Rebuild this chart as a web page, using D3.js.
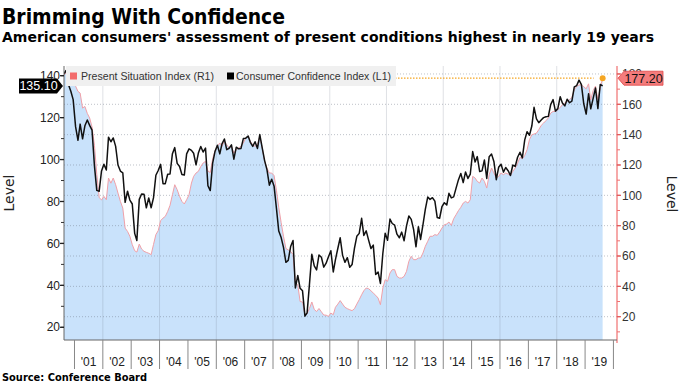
<!DOCTYPE html>
<html><head><meta charset="utf-8">
<script src="https://cdn.jsdelivr.net/npm/d3@7"></script>
<style>body{margin:0;background:#fff;} svg{display:block;}</style>
</head><body><svg id="c" width="680" height="383"></svg>
<script>
// Monthly data, Aug 2000 .. Aug 2019
const startYear = 2000, startMonthIndex = 7;
const cci = [
  140.8,142.5,135.8,132.6,128.6,
  115.7,109.2,116.9,109.9,116.1,118.9,116.3,114.0,97.0,85.3,84.9,94.6,
  97.8,95.0,110.7,108.5,110.3,106.3,97.4,94.5,93.7,79.6,84.9,80.7,
  78.8,64.8,61.4,81.0,83.6,83.5,77.0,81.7,77.0,81.7,92.5,94.8,
  97.7,88.5,88.5,93.0,93.1,102.8,105.7,98.2,96.7,92.9,92.6,102.7,
  105.1,104.4,103.0,97.5,103.1,106.2,103.6,105.5,87.5,85.2,98.3,103.8,
  106.8,102.7,107.5,109.8,104.7,105.4,107.0,100.2,105.9,105.1,105.3,110.0,
  110.2,111.2,108.2,106.3,108.5,105.3,111.9,105.6,99.5,95.2,87.8,90.6,
  87.3,76.4,65.9,62.8,58.1,51.0,51.9,58.5,61.4,38.8,44.7,38.6,
  37.4,25.3,26.9,40.8,54.8,49.3,47.4,54.5,53.4,48.7,50.6,53.6,
  56.5,46.4,52.3,57.7,62.7,54.3,51.0,53.2,48.6,49.9,57.8,63.4,
  64.8,72.0,63.8,66.0,61.7,57.6,59.2,45.2,46.4,40.9,55.2,64.8,
  61.5,71.6,69.5,68.7,64.4,62.7,65.4,61.3,68.4,73.1,71.5,66.7,
  58.4,68.0,61.9,69.0,76.2,82.1,81.0,81.8,80.2,72.4,72.0,77.5,
  79.4,78.3,83.9,81.7,82.2,86.4,90.3,93.4,89.0,94.1,91.0,93.1,
  103.8,98.8,101.4,94.3,94.6,99.8,91.0,101.3,102.6,99.1,90.4,96.3,
  97.8,94.0,96.2,94.7,92.4,97.4,96.7,101.1,103.5,100.8,109.4,113.3,
  111.6,116.1,124.9,119.4,117.6,118.9,120.0,120.4,120.6,126.2,128.6,123.1,
  124.3,130.0,127.0,125.6,128.8,127.1,127.9,134.7,135.3,137.9,135.7,126.6,
  121.7,131.4,124.2,129.2,134.1,124.3,135.8,135.1
];
const psi = [
  179.5,180.5,180.0,181.0,176.0,
  172.0,168.5,167.4,157.5,158.6,154.0,151.0,145.0,133.0,114.0,98.5,97.0,
  99.3,97.1,111.4,108.0,111.4,107.0,101.5,96.0,91.6,78.4,76.2,73.0,
  67.5,63.5,62.6,67.9,64.6,63.1,62.4,61.8,60.9,67.5,74.1,76.7,
  83.3,85.0,86.1,89.4,93.4,100.4,107.0,103.7,99.3,96.0,94.3,97.1,
  100.4,108.1,112.5,114.7,115.8,119.0,121.3,122.4,116.0,115.0,124.1,129.4,
  132.3,134.5,132.3,135.6,133.4,131.2,132.3,127.9,130.0,131.2,132.3,134.5,
  137.8,138.9,135.6,133.4,132.3,133.4,138.9,131.2,122.4,118.0,114.7,114.7,
  113.0,103.0,92.0,82.0,73.0,65.0,64.0,63.0,61.0,42.0,41.0,30.0,
  29.7,21.2,21.9,25.5,29.7,24.8,23.4,25.4,23.2,21.1,21.0,20.2,
  22.4,21.3,26.2,28.3,30.6,28.3,26.2,25.3,24.6,24.0,25.3,28.3,
  31.2,34.5,37.1,38.9,38.5,37.1,35.6,34.1,32.3,27.9,38.9,44.4,
  43.3,48.8,51.0,51.0,46.6,45.5,45.5,46.6,49.9,56.5,59.8,57.6,
  57.6,58.7,58.7,62.0,66.4,69.7,73.0,73.0,74.1,73.6,75.8,78.4,
  80.6,81.1,82.4,80.2,84.6,87.2,89.9,92.1,94.9,96.0,94.9,97.1,
  112.5,111.4,109.2,108.1,111.4,109.2,104.8,113.6,118.0,114.7,111.4,112.5,
  114.7,113.6,114.7,114.0,113.2,115.8,118.0,121.3,125.0,124.1,126.3,130.1,
  136.7,140.0,140.4,141.0,143.3,146.1,147.6,149.2,151.0,154.2,155.3,155.3,
  156.4,158.0,159.7,160.8,161.9,163.0,164.6,169.6,171.8,172.8,172.7,171.6,
  170.2,173.5,163.0,169.0,172.0,163.0,170.9,177.2
];
const yearLabels = ["'01","'02","'03","'04","'05","'06","'07","'08","'09","'10","'11","'12","'13","'14","'15","'16","'17","'18","'19"];
const yearStarts = [2001,2002,2003,2004,2005,2006,2007,2008,2009,2010,2011,2012,2013,2014,2015,2016,2017,2018,2019,2020];
const gridYears = [2002,2004,2006,2008,2010,2012,2014,2016,2018];
const leftTicks = [20,40,60,80,100,120,140];
const rightTicks = [20,40,60,80,100,120,140,160,180];
const lastCCI = 135.1, lastPSI = 177.2;

const svg = d3.select("#c");
const L = 64, R = 617, T = 66, B = 340;
const dates = cci.map((_, i) => new Date(startYear, startMonthIndex + i, 15));
const x = d3.scaleTime().domain([new Date(2000,7,19), new Date(2020,1,16)]).range([L, R]);
const yL = d3.scaleLinear().domain([13.94, 143.67]).range([B, 68]);
const yR = d3.scaleLinear().domain([4.64, 183.93]).range([B, 68]);

svg.append("defs").append("clipPath").attr("id","clip")
  .append("rect").attr("x", L).attr("y", T).attr("width", R - L).attr("height", B - T);

const plot = svg.append("g").attr("clip-path","url(#clip)");

// area fill (PSI)
plot.append("path").datum(psi)
  .attr("d", d3.area().x((d,i)=>x(dates[i])).y0(B).y1(d=>yR(d)))
  .attr("fill", "#c9e2fb");

// gridlines
plot.selectAll(".hg").data(rightTicks).enter().append("line")
  .attr("x1", L).attr("x2", R).attr("y1", d=>yR(d)).attr("y2", d=>yR(d))
  .attr("stroke", "rgba(110,120,135,0.45)").attr("stroke-width", 1)
  .attr("stroke-dasharray", "1,2");
plot.selectAll(".vg").data(gridYears).enter().append("line")
  .attr("x1", d=>x(new Date(d,0,1))).attr("x2", d=>x(new Date(d,0,1)))
  .attr("y1", T).attr("y2", B)
  .attr("stroke", "rgba(110,120,135,0.22)").attr("stroke-width", 1);

// PSI line
plot.append("path").datum(psi)
  .attr("d", d3.line().x((d,i)=>x(dates[i])).y(d=>yR(d)))
  .attr("fill","none").attr("stroke","#f0a0a8").attr("stroke-width",1);
// CCI line
plot.append("path").datum(cci)
  .attr("d", d3.line().x((d,i)=>x(dates[i])).y(d=>yL(d)))
  .attr("fill","none").attr("stroke","#111").attr("stroke-width",1.5).attr("stroke-linejoin","round");

// orange reference line
const yO = yR(lastPSI);
const xLast = x(dates[dates.length-1]);
svg.append("line").attr("x1", 86).attr("x2", xLast - 9).attr("y1", yO).attr("y2", yO)
  .attr("stroke","#f5a623").attr("stroke-width",1.3).attr("stroke-dasharray","1.5,1.5");
svg.append("path").attr("d", `M89,${yO-4} L84,${yO} L89,${yO+4}`)
  .attr("fill","none").attr("stroke","#f5a623").attr("stroke-width",1.2);
svg.append("circle").attr("cx", xLast).attr("cy", yO).attr("r", 3).attr("fill","#f5a623");

// legend
const lg = svg.append("g");
lg.append("rect").attr("x",66).attr("y",66).attr("width",330).attr("height",20).attr("fill","#f0f0f0");
lg.append("rect").attr("x",70).attr("y",72.5).attr("width",7).attr("height",7).attr("fill","#f36b6b");
lg.append("text").attr("x",81).attr("y",80).attr("font-family","Liberation Sans, Arial, sans-serif")
  .attr("font-size",11).attr("fill","#333").attr("textLength",133).attr("lengthAdjust","spacingAndGlyphs")
  .text("Present Situation Index (R1)");
lg.append("rect").attr("x",227).attr("y",72.5).attr("width",7).attr("height",7).attr("fill","#000");
lg.append("text").attr("x",236).attr("y",80).attr("font-family","Liberation Sans, Arial, sans-serif")
  .attr("font-size",11).attr("fill","#333").attr("textLength",155).attr("lengthAdjust","spacingAndGlyphs")
  .text("Consumer Confidence Index (L1)");

// left axis
const fontAx = "Liberation Sans, Arial, sans-serif";
svg.append("line").attr("x1",L).attr("x2",L).attr("y1",T).attr("y2",B).attr("stroke","#666");
const leftMinor = d3.range(20, 141, 10);
svg.selectAll(".lmt").data(leftMinor).enter().append("line")
  .attr("x1",L-3).attr("x2",L).attr("y1",d=>yL(d)).attr("y2",d=>yL(d)).attr("stroke","#333");
svg.selectAll(".lt").data(leftTicks).enter().append("line")
  .attr("x1",L-4).attr("x2",L).attr("y1",d=>yL(d)).attr("y2",d=>yL(d)).attr("stroke","#222").attr("stroke-width",1.3);
svg.selectAll(".ll").data(leftTicks).enter().append("text")
  .attr("x",L-4).attr("y",d=>yL(d)+4.2).attr("text-anchor","end")
  .attr("font-family",fontAx).attr("font-size",12).attr("fill","#222").text(d=>d);

// right axis
svg.append("line").attr("x1",R).attr("x2",R).attr("y1",T).attr("y2",B+3).attr("stroke","#f07070").attr("stroke-width",1.2);
const rightMinor = d3.range(10, 181, 10);
svg.selectAll(".rmt").data(rightMinor).enter().append("line")
  .attr("x1",R).attr("x2",R+3).attr("y1",d=>yR(d)).attr("y2",d=>yR(d)).attr("stroke","#f07070");
svg.selectAll(".rt").data(rightTicks).enter().append("line")
  .attr("x1",R).attr("x2",R+4).attr("y1",d=>yR(d)).attr("y2",d=>yR(d)).attr("stroke","#e05858").attr("stroke-width",1.2);
svg.selectAll(".rl").data(rightTicks).enter().append("text")
  .attr("x",R+5).attr("y",d=>yR(d)+4.2).attr("text-anchor","start")
  .attr("font-family",fontAx).attr("font-size",12).attr("fill","#333").text(d=>d);

// bottom axis
svg.append("line").attr("x1",L).attr("x2",R).attr("y1",B).attr("y2",B).attr("stroke","#666");
svg.selectAll(".yt").data(yearStarts).enter().append("line")
  .attr("x1",d=>x(new Date(d,0,1))).attr("x2",d=>x(new Date(d,0,1)))
  .attr("y1",B).attr("y2",B+29).attr("stroke","#888");
svg.selectAll(".yl").data(yearLabels).enter().append("text")
  .attr("x",(d,i)=>(x(new Date(yearStarts[i],0,1))+x(new Date(yearStarts[i]+1,0,1)))/2)
  .attr("y",366).attr("text-anchor","middle")
  .attr("font-family",fontAx).attr("font-size",12).attr("fill","#222").text(d=>d);

// last value labels
const yc = yL(lastCCI);
svg.append("path").attr("d",`M19,${yc-7.5} L57,${yc-7.5} L63,${yc} L57,${yc+7.5} L19,${yc+7.5} Z`).attr("fill","#000");
svg.append("text").attr("x",38.5).attr("y",yc+4.3).attr("text-anchor","middle")
  .attr("font-family",fontAx).attr("font-size",12.5).attr("fill","#fff").text(lastCCI.toFixed(2));
svg.append("path").attr("d",`M618,${yO} L624,${yO-7} L663,${yO-7} L663,${yO+7} L624,${yO+7} Z`)
  .attr("fill","#f47c7c").attr("stroke","#d44").attr("stroke-width",0.8);
svg.append("text").attr("x",643.5).attr("y",yO+4.3).attr("text-anchor","middle")
  .attr("font-family",fontAx).attr("font-size",12.5).attr("fill","#111").text(lastPSI.toFixed(2));

// axis titles
svg.append("text").attr("transform","translate(14,193) rotate(-90)").attr("text-anchor","middle")
  .attr("font-family","DejaVu Sans, sans-serif").attr("font-size",14).attr("fill","#222").text("Level");
svg.append("text").attr("transform","translate(667,194) rotate(90)").attr("text-anchor","middle")
  .attr("font-family","DejaVu Sans, sans-serif").attr("font-size",14).attr("fill","#222").text("Level");

// titles
svg.append("text").attr("x",2).attr("y",24).attr("font-family","DejaVu Sans, sans-serif").attr("font-weight","bold")
  .attr("font-size",21).attr("fill","#000").attr("textLength",283).attr("lengthAdjust","spacingAndGlyphs")
  .text("Brimming With Confidence");
svg.append("text").attr("x",2).attr("y",42).attr("font-family","DejaVu Sans, sans-serif").attr("font-weight","bold")
  .attr("font-size",14).attr("fill","#000").attr("textLength",652).attr("lengthAdjust","spacingAndGlyphs")
  .text("American consumers' assessment of present conditions highest in nearly 19 years");
svg.append("text").attr("x",2).attr("y",381).attr("font-family","DejaVu Sans, sans-serif").attr("font-weight","bold")
  .attr("font-size",11).attr("fill","#000").attr("textLength",145).attr("lengthAdjust","spacingAndGlyphs")
  .text("Source: Conference Board");
</script></body></html>
